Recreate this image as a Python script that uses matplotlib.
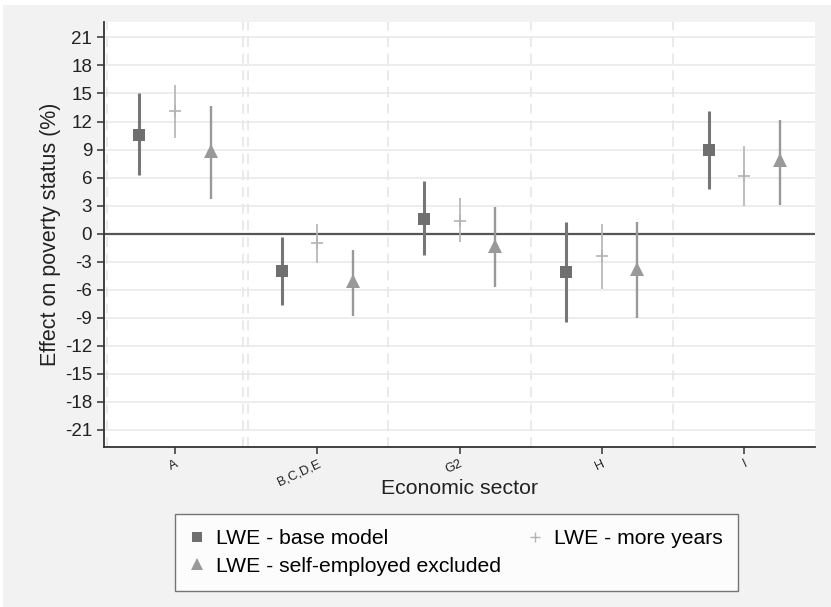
import matplotlib.pyplot as plt
from matplotlib.lines import Line2D
from matplotlib.patches import Rectangle
import numpy as np

plt.rcParams['font.family'] = ['Liberation Sans', 'DejaVu Sans']

sectors = ["A", "B,C,D,E", "G2", "H", "I"]

# LWE - base model
base_est = [10.6, -4.0, 1.6, -4.1, 9.0]
base_lo = [6.3, -7.6, -2.3, -9.4, 4.8]
base_hi = [15.0, -0.4, 5.6, 1.2, 13.1]

# LWE - more years
more_est = [13.1, -1.0, 1.4, -2.4, 6.2]
more_lo = [10.2, -3.1, -0.9, -5.9, 3.0]
more_hi = [15.9, 1.0, 3.8, 1.0, 9.4]

# LWE - self-employed excluded
self_est = [8.8, -5.1, -1.3, -3.8, 7.9]
self_lo = [3.7, -8.8, -5.7, -9.0, 3.1]
self_hi = [13.7, -1.7, 2.9, 1.2, 12.2]

yticks = list(range(-21, 22, 3))

fig = plt.figure(figsize=(8.31, 6.07), dpi=100)
fig.patch.set_facecolor("#f2f2f2")
# thin white margin at the top and left of the exported image
fig.patches.append(Rectangle((0, 1 - 5 / 607), 1, 5 / 607, transform=fig.transFigure,
                             facecolor="white", edgecolor="none"))
fig.patches.append(Rectangle((0, 0), 3 / 831, 1, transform=fig.transFigure,
                             facecolor="white", edgecolor="none"))

ax = fig.add_axes([0.125, 0.264, 0.856, 0.699])
ax.set_facecolor("white")

x = np.arange(1, len(sectors) + 1)

# grid lines
for t in yticks:
    ax.axhline(t, color="#ececec", linewidth=1.3, zorder=0)
for v in [0.52, 1.48, 1.51, 2.5, 3.5, 4.5]:
    ax.axvline(v, color="#e6e6e6", linewidth=1.2, linestyle=(0, (6, 4)), zorder=0)
ax.axhline(0, color="#555555", linewidth=1.6, zorder=1)

series = [
    (x - 0.25, base_est, base_lo, base_hi, "s", "#6f6f6f", "#767676", 2.2, 9, "LWE - base model"),
    (x, more_est, more_lo, more_hi, "+", "#b3b3b3", "#b3b3b3", 1.2, 9, "LWE - more years"),
    (x + 0.25, self_est, self_lo, self_hi, "^", "#999999", "#999999", 1.7, 10, "LWE - self-employed excluded"),
]
handles = []
for xs, est, lo, hi, mk, mc, lc, lw, ms, lab in series:
    ax.vlines(xs, lo, hi, color=lc, linewidth=lw, zorder=2)
    ax.plot(xs, est, linestyle="none", marker=mk, color=mc, markersize=ms,
            markeredgewidth=1.2 if mk == "+" else 0, zorder=3)
    handles.append(Line2D([], [], linestyle="none", marker=mk, color=mc,
                          markersize=ms * 0.8, markeredgewidth=1.0 if mk == "+" else 0, label=lab))

ax.set_xlim(0.5, 5.5)
ax.set_ylim(-22.8, 22.6)
ax.set_yticks(yticks)
ax.set_yticklabels([str(t) for t in yticks], fontsize=13.5)
ax.set_xticks(x)
ax.set_xticklabels(sectors, fontsize=9.3, rotation=25, ha="right", rotation_mode="anchor")

for s in ["top", "right"]:
    ax.spines[s].set_visible(False)
for s in ["left", "bottom"]:
    ax.spines[s].set_color("#333333")
    ax.spines[s].set_linewidth(1.3)
ax.tick_params(axis="both", colors="#333333", length=5, width=1.1, labelcolor="#222222")
ax.tick_params(axis="x", pad=3)

ax.set_xlabel("Economic sector", fontsize=15.3, color="#222222")
ax.xaxis.set_label_coords(0.5, -0.077)
ax.set_ylabel("Effect on poverty status (%)", fontsize=15.5, labelpad=3, color="#222222")

leg = fig.legend(handles=[handles[0], handles[2], handles[1]],
                 loc="upper left", bbox_to_anchor=(175 / 831, 1 - 593 / 607, (738 - 175) / 831, (593 - 514) / 607),
                 mode="expand", ncol=2, fontsize=15.2, frameon=True, fancybox=False,
                 handlelength=0.6, handletextpad=0.6, borderpad=0.72, labelspacing=0.4,
                 borderaxespad=0, columnspacing=2.0)
leg.get_frame().set_edgecolor("#555555")
leg.get_frame().set_linewidth(1.0)

fig.savefig("out.png", dpi=100, facecolor=fig.get_facecolor())
